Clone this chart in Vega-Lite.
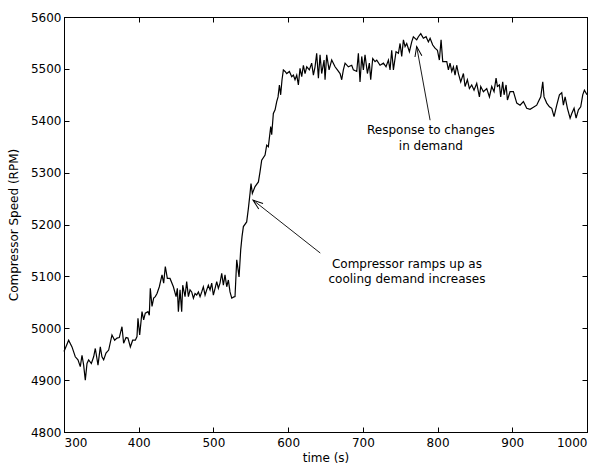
{
  "$schema": "https://vega.github.io/schema/vega-lite/v6.json",
  "width": 523,
  "height": 415,
  "autosize": "none",
  "padding": {"left": 64, "top": 17, "right": 18, "bottom": 34},
  "background": "white",
  "config": {
    "view": {"stroke": "black", "strokeWidth": 1},
    "axis": {
      "grid": false,
      "domainColor": "black",
      "domainWidth": 1,
      "tickColor": "black",
      "tickWidth": 1,
      "tickSize": -5,
      "labelColor": "black",
      "titleColor": "black",
      "labelFont": "DejaVu Sans",
      "titleFont": "DejaVu Sans",
      "labelFontSize": 12,
      "titleFontSize": 12,
      "titleFontWeight": "normal"
    },
    "text": {"font": "DejaVu Sans", "fontSize": 12, "color": "black"}
  },
  "datasets": {
    "speed": [
      {"time": 300, "rpm": 4955}, {"time": 306.2, "rpm": 4977}, {"time": 310.7, "rpm": 4964}, {"time": 315.1, "rpm": 4945},
      {"time": 318.7, "rpm": 4939}, {"time": 321.8, "rpm": 4926}, {"time": 324.1, "rpm": 4948}, {"time": 326.3, "rpm": 4929},
      {"time": 328.5, "rpm": 4900}, {"time": 330.8, "rpm": 4932}, {"time": 333, "rpm": 4939}, {"time": 336.6, "rpm": 4932},
      {"time": 339.7, "rpm": 4945}, {"time": 341.9, "rpm": 4961}, {"time": 345.5, "rpm": 4929}, {"time": 348.6, "rpm": 4964},
      {"time": 350.8, "rpm": 4945}, {"time": 353.1, "rpm": 4939}, {"time": 356.2, "rpm": 4952}, {"time": 359.8, "rpm": 4958},
      {"time": 364.2, "rpm": 4987}, {"time": 367.8, "rpm": 4977}, {"time": 370.9, "rpm": 4981}, {"time": 374, "rpm": 4982},
      {"time": 377.6, "rpm": 5003}, {"time": 379.8, "rpm": 4971}, {"time": 383, "rpm": 4982}, {"time": 385.6, "rpm": 4981},
      {"time": 388.8, "rpm": 4964}, {"time": 391.9, "rpm": 4977}, {"time": 395.5, "rpm": 4977}, {"time": 397.7, "rpm": 4984},
      {"time": 399, "rpm": 5019}, {"time": 401.3, "rpm": 4987}, {"time": 404.4, "rpm": 5032}, {"time": 406.6, "rpm": 5016},
      {"time": 408.8, "rpm": 5029}, {"time": 412.4, "rpm": 5032}, {"time": 414.2, "rpm": 5025}, {"time": 415.5, "rpm": 5077},
      {"time": 417.8, "rpm": 5042}, {"time": 420, "rpm": 5058}, {"time": 422.2, "rpm": 5061}, {"time": 424.5, "rpm": 5067},
      {"time": 427.6, "rpm": 5080}, {"time": 431.2, "rpm": 5103}, {"time": 433.4, "rpm": 5087}, {"time": 435.6, "rpm": 5119},
      {"time": 438.3, "rpm": 5096}, {"time": 441.9, "rpm": 5096}, {"time": 446.4, "rpm": 5080}, {"time": 450, "rpm": 5061},
      {"time": 451.7, "rpm": 5077}, {"time": 453.1, "rpm": 5032}, {"time": 455.3, "rpm": 5074}, {"time": 457.5, "rpm": 5032},
      {"time": 458.9, "rpm": 5083}, {"time": 462, "rpm": 5061}, {"time": 464.2, "rpm": 5090}, {"time": 466.5, "rpm": 5061},
      {"time": 468.7, "rpm": 5074}, {"time": 470.9, "rpm": 5070}, {"time": 473.2, "rpm": 5058}, {"time": 475.4, "rpm": 5067},
      {"time": 477.6, "rpm": 5064}, {"time": 479.9, "rpm": 5070}, {"time": 482.1, "rpm": 5061}, {"time": 484.3, "rpm": 5070},
      {"time": 486.5, "rpm": 5080}, {"time": 488.8, "rpm": 5064}, {"time": 491, "rpm": 5074}, {"time": 493.2, "rpm": 5083},
      {"time": 495.5, "rpm": 5074}, {"time": 497.7, "rpm": 5087}, {"time": 499.9, "rpm": 5064}, {"time": 502.2, "rpm": 5077},
      {"time": 504.4, "rpm": 5090}, {"time": 506.6, "rpm": 5077}, {"time": 508.8, "rpm": 5087}, {"time": 511.1, "rpm": 5106},
      {"time": 513.3, "rpm": 5083}, {"time": 515.5, "rpm": 5103}, {"time": 517.8, "rpm": 5080}, {"time": 520, "rpm": 5093},
      {"time": 522.2, "rpm": 5070}, {"time": 524.5, "rpm": 5058}, {"time": 526.7, "rpm": 5060}, {"time": 528.9, "rpm": 5061},
      {"time": 531.2, "rpm": 5132}, {"time": 534.3, "rpm": 5099}, {"time": 536.5, "rpm": 5151}, {"time": 538.3, "rpm": 5177},
      {"time": 540.1, "rpm": 5196}, {"time": 544.5, "rpm": 5205}, {"time": 546.8, "rpm": 5231}, {"time": 549, "rpm": 5260},
      {"time": 550.3, "rpm": 5279}, {"time": 552.1, "rpm": 5260}, {"time": 555.7, "rpm": 5273}, {"time": 560.2, "rpm": 5282},
      {"time": 562.4, "rpm": 5302}, {"time": 564.6, "rpm": 5324}, {"time": 569.1, "rpm": 5334}, {"time": 571.3, "rpm": 5353},
      {"time": 573.5, "rpm": 5350}, {"time": 576.7, "rpm": 5389}, {"time": 578, "rpm": 5373}, {"time": 580.2, "rpm": 5414},
      {"time": 582.5, "rpm": 5421}, {"time": 584.7, "rpm": 5437}, {"time": 586.5, "rpm": 5446}, {"time": 588.3, "rpm": 5469},
      {"time": 590, "rpm": 5450}, {"time": 591.8, "rpm": 5479}, {"time": 593.6, "rpm": 5498}, {"time": 595.9, "rpm": 5495},
      {"time": 598.1, "rpm": 5491}, {"time": 601.7, "rpm": 5495}, {"time": 604.8, "rpm": 5485}, {"time": 607, "rpm": 5488},
      {"time": 609.2, "rpm": 5479}, {"time": 611.5, "rpm": 5488}, {"time": 613.7, "rpm": 5469}, {"time": 615.9, "rpm": 5501},
      {"time": 618.2, "rpm": 5485}, {"time": 620.4, "rpm": 5507}, {"time": 622.6, "rpm": 5491}, {"time": 624.9, "rpm": 5504},
      {"time": 628.4, "rpm": 5498}, {"time": 631.5, "rpm": 5511}, {"time": 633.8, "rpm": 5488}, {"time": 636, "rpm": 5504},
      {"time": 638.2, "rpm": 5530}, {"time": 640.5, "rpm": 5482}, {"time": 642.7, "rpm": 5527}, {"time": 644.9, "rpm": 5491},
      {"time": 648.1, "rpm": 5517}, {"time": 649.4, "rpm": 5479}, {"time": 651.6, "rpm": 5527}, {"time": 654.8, "rpm": 5498},
      {"time": 658.3, "rpm": 5517}, {"time": 662.8, "rpm": 5504}, {"time": 665.9, "rpm": 5498}, {"time": 669.5, "rpm": 5491},
      {"time": 671.7, "rpm": 5479}, {"time": 673.9, "rpm": 5498}, {"time": 676.2, "rpm": 5511}, {"time": 680.6, "rpm": 5504},
      {"time": 685.1, "rpm": 5507}, {"time": 687.3, "rpm": 5498}, {"time": 691.8, "rpm": 5495}, {"time": 694, "rpm": 5530},
      {"time": 696.2, "rpm": 5475}, {"time": 698.5, "rpm": 5524}, {"time": 700.7, "rpm": 5498}, {"time": 702.9, "rpm": 5527},
      {"time": 706.1, "rpm": 5491}, {"time": 708.7, "rpm": 5511}, {"time": 710.5, "rpm": 5479}, {"time": 713.2, "rpm": 5520},
      {"time": 716.3, "rpm": 5514}, {"time": 718.6, "rpm": 5517}, {"time": 723, "rpm": 5507}, {"time": 727.5, "rpm": 5511},
      {"time": 731, "rpm": 5504}, {"time": 734.2, "rpm": 5517}, {"time": 736.4, "rpm": 5498}, {"time": 738.6, "rpm": 5536},
      {"time": 740.9, "rpm": 5498}, {"time": 744.4, "rpm": 5533}, {"time": 747.6, "rpm": 5530}, {"time": 749.8, "rpm": 5549},
      {"time": 752, "rpm": 5524}, {"time": 754.3, "rpm": 5556}, {"time": 756.5, "rpm": 5543}, {"time": 758.7, "rpm": 5549},
      {"time": 762.3, "rpm": 5533}, {"time": 765.4, "rpm": 5552}, {"time": 767.6, "rpm": 5562}, {"time": 772.1, "rpm": 5556},
      {"time": 774.3, "rpm": 5562}, {"time": 777.5, "rpm": 5568}, {"time": 781, "rpm": 5559}, {"time": 784.6, "rpm": 5562},
      {"time": 787.7, "rpm": 5552}, {"time": 790, "rpm": 5559}, {"time": 793.5, "rpm": 5546}, {"time": 796.6, "rpm": 5540},
      {"time": 799.8, "rpm": 5536}, {"time": 802.4, "rpm": 5517}, {"time": 804.7, "rpm": 5556}, {"time": 806.9, "rpm": 5514},
      {"time": 808.7, "rpm": 5514}, {"time": 812.3, "rpm": 5514}, {"time": 814.5, "rpm": 5498}, {"time": 816.7, "rpm": 5511},
      {"time": 819, "rpm": 5495}, {"time": 821.2, "rpm": 5504}, {"time": 823.4, "rpm": 5488}, {"time": 825.6, "rpm": 5507},
      {"time": 827.9, "rpm": 5491}, {"time": 831, "rpm": 5475}, {"time": 834.6, "rpm": 5491}, {"time": 836.8, "rpm": 5466},
      {"time": 839.9, "rpm": 5479}, {"time": 842.6, "rpm": 5462}, {"time": 845.7, "rpm": 5469}, {"time": 848.8, "rpm": 5459},
      {"time": 852.4, "rpm": 5472}, {"time": 856, "rpm": 5446}, {"time": 857.8, "rpm": 5466}, {"time": 861.3, "rpm": 5456},
      {"time": 865.8, "rpm": 5462}, {"time": 869.4, "rpm": 5446}, {"time": 872.5, "rpm": 5466}, {"time": 875.6, "rpm": 5456},
      {"time": 878.3, "rpm": 5482}, {"time": 880.1, "rpm": 5466}, {"time": 882.8, "rpm": 5469}, {"time": 884.5, "rpm": 5446},
      {"time": 887.2, "rpm": 5475}, {"time": 889, "rpm": 5450}, {"time": 891.7, "rpm": 5469}, {"time": 893.5, "rpm": 5440},
      {"time": 897, "rpm": 5456}, {"time": 901.5, "rpm": 5456}, {"time": 906, "rpm": 5434}, {"time": 910.4, "rpm": 5430},
      {"time": 914.9, "rpm": 5437}, {"time": 919.3, "rpm": 5424}, {"time": 923.8, "rpm": 5422}, {"time": 928.3, "rpm": 5426},
      {"time": 932.7, "rpm": 5430}, {"time": 935, "rpm": 5437}, {"time": 938.1, "rpm": 5446}, {"time": 940.8, "rpm": 5475},
      {"time": 942.5, "rpm": 5446}, {"time": 946.1, "rpm": 5434}, {"time": 949.7, "rpm": 5427}, {"time": 952.8, "rpm": 5424},
      {"time": 955.9, "rpm": 5408}, {"time": 959.5, "rpm": 5430}, {"time": 963.1, "rpm": 5450}, {"time": 966.2, "rpm": 5454},
      {"time": 968.4, "rpm": 5430}, {"time": 970.7, "rpm": 5446}, {"time": 973.8, "rpm": 5424}, {"time": 977.4, "rpm": 5405},
      {"time": 979.6, "rpm": 5414}, {"time": 982.7, "rpm": 5424}, {"time": 985.4, "rpm": 5405}, {"time": 988.5, "rpm": 5421},
      {"time": 991.6, "rpm": 5427}, {"time": 994.3, "rpm": 5450}, {"time": 996.5, "rpm": 5459}, {"time": 1000, "rpm": 5450}
    ],
    "notes": [
      {"time": 791, "rpm": 5374, "label": "Response to changes"},
      {"time": 791, "rpm": 5344, "label": "in demand"},
      {"time": 759, "rpm": 5117, "label": "Compressor ramps up as"},
      {"time": 759, "rpm": 5088, "label": "cooling demand increases"}
    ],
    "arrows": [
      {"name": "response", "t1": 790, "r1": 5401, "t2": 772, "r2": 5543},
      {"name": "ramp", "t1": 643, "r1": 5145, "t2": 553, "r2": 5247}
    ]
  },
  "layer": [
    {
      "data": {"name": "speed"},
      "mark": {"type": "line", "color": "black", "strokeWidth": 1.2},
      "encoding": {
        "x": {"field": "time", "type": "quantitative", "scale": {"domain": [300, 1000], "nice": false, "zero": false},
              "axis": {"orient": "bottom", "title": "time (s)", "values": [300, 400, 500, 600, 700, 800, 900, 1000], "format": "d", "labelPadding": 10, "titlePadding": 4}},
        "y": {"field": "rpm", "type": "quantitative", "scale": {"domain": [4800, 5600], "nice": false, "zero": false},
              "axis": {"orient": "left", "title": "Compressor Speed (RPM)", "values": [4800, 4900, 5000, 5100, 5200, 5300, 5400, 5500, 5600], "format": "d", "labelPadding": 8, "titlePadding": 10}}
      }
    },
    {
      "data": {"name": "speed"},
      "mark": {"type": "line", "opacity": 0},
      "encoding": {
        "x": {"field": "time", "type": "quantitative", "axis": {"orient": "top", "title": null, "labels": false, "values": [300, 400, 500, 600, 700, 800, 900, 1000]}},
        "y": {"field": "rpm", "type": "quantitative", "axis": {"orient": "right", "title": null, "labels": false, "values": [4800, 4900, 5000, 5100, 5200, 5300, 5400, 5500, 5600]}}
      }
    },
    {
      "data": {"name": "arrows"},
      "mark": {"type": "rule", "color": "black", "strokeWidth": 0.9},
      "encoding": {
        "x": {"field": "t1", "type": "quantitative", "axis": null},
        "y": {"field": "r1", "type": "quantitative", "axis": null},
        "x2": {"field": "t2"},
        "y2": {"field": "r2"}
      }
    },
    {
      "data": {"name": "arrows"},
      "transform": [{"filter": "datum.name === 'response'"}],
      "mark": {"type": "point", "shape": "M -0.35 1 L 0 0 L 0.35 1", "size": 400, "filled": false, "color": "black", "strokeWidth": 1, "angle": 349.8, "opacity": 1},
      "encoding": {
        "x": {"field": "t2", "type": "quantitative", "axis": null},
        "y": {"field": "r2", "type": "quantitative", "axis": null}
      }
    },
    {
      "data": {"name": "arrows"},
      "transform": [{"filter": "datum.name === 'ramp'"}],
      "mark": {"type": "point", "shape": "M -0.35 1 L 0 0 L 0.35 1", "size": 400, "filled": false, "color": "black", "strokeWidth": 1, "angle": 308.2, "opacity": 1},
      "encoding": {
        "x": {"field": "t2", "type": "quantitative", "axis": null},
        "y": {"field": "r2", "type": "quantitative", "axis": null}
      }
    },
    {
      "data": {"name": "notes"},
      "mark": {"type": "text", "align": "center", "baseline": "alphabetic", "font": "DejaVu Sans", "fontSize": 12, "color": "black"},
      "encoding": {
        "x": {"field": "time", "type": "quantitative", "axis": null},
        "y": {"field": "rpm", "type": "quantitative", "axis": null},
        "text": {"field": "label"}
      }
    }
  ],
  "resolve": {"axis": {"x": "independent", "y": "independent"}}
}
